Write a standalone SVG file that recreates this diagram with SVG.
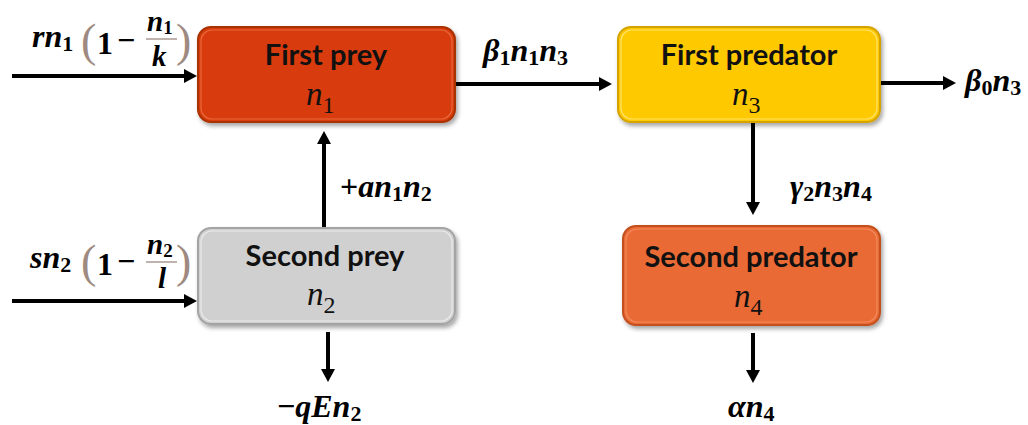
<svg xmlns="http://www.w3.org/2000/svg" width="1028" height="425" viewBox="0 0 1028 425">
<defs>
<style>
.box-title{font-family:Lato,"Liberation Sans",sans-serif;font-weight:bold;font-size:29px;fill:#111;text-anchor:middle}
.var{font-family:"Liberation Serif",serif;font-style:italic;font-size:33px;fill:#111}
.vsub{font-family:"Liberation Serif",serif;font-style:normal;font-size:24px;fill:#111}
.m{font-family:"Liberation Serif",serif;font-style:italic;font-weight:bold;font-size:32px;fill:#000}
.f{font-size:29px}
.ms{font-style:normal;font-weight:bold;font-size:22px}
.fs{font-style:normal;font-weight:bold;font-size:19px}
.mu{font-style:normal;font-weight:bold}
.paren{font-family:"Liberation Serif",serif;font-size:46px;fill:#9E8A80}
.frac{stroke:#9E8A80;stroke-width:1.3}
.conn{stroke:#000;stroke-width:4;fill:none}
</style>
<marker id="ah" markerUnits="userSpaceOnUse" markerWidth="14" markerHeight="14" viewBox="0 0 14 14" refX="2" refY="7" orient="auto">
<path d="M0,0 L13,7 L0,14 z" fill="#000"/>
</marker>
<filter id="sh" x="-10%" y="-10%" width="125%" height="135%">
<feDropShadow dx="2" dy="3" stdDeviation="2" flood-color="#000" flood-opacity="0.35"/>
</filter>
</defs>
<rect width="1028" height="425" fill="#fff"/>

<g id="connectors">
<line class="conn" x1="12" y1="76" x2="186" y2="76" marker-end="url(#ah)"/>
<line class="conn" x1="455" y1="84" x2="601" y2="84" marker-end="url(#ah)"/>
<line class="conn" x1="880" y1="83" x2="945" y2="83" marker-end="url(#ah)"/>
<line class="conn" x1="324" y1="228" x2="324" y2="142" marker-end="url(#ah)"/>
<line class="conn" x1="12" y1="301" x2="186" y2="301" marker-end="url(#ah)"/>
<line class="conn" x1="328" y1="332" x2="328" y2="371" marker-end="url(#ah)"/>
<line class="conn" x1="753" y1="122" x2="753" y2="204" marker-end="url(#ah)"/>
<line class="conn" x1="753" y1="333" x2="753" y2="372" marker-end="url(#ah)"/>
</g>

<g id="first-prey">
<rect x="198" y="27" width="257" height="95" rx="13" fill="#D83B07" stroke="#A83005" stroke-width="2" filter="url(#sh)"/>
<rect x="201" y="30" width="251" height="89" rx="11" fill="none" stroke="#E8683A" stroke-width="1.2"/>
<text class="box-title" x="326" y="65">First prey</text>
<text class="var" x="306" y="105">n<tspan class="vsub" dy="8">1</tspan></text>
</g>

<g id="first-predator">
<rect x="618" y="27" width="262" height="95" rx="13" fill="#FFC905" stroke="#D4A300" stroke-width="2" filter="url(#sh)"/>
<rect x="621" y="30" width="256" height="89" rx="11" fill="none" stroke="#FFE16A" stroke-width="1.2"/>
<text class="box-title" x="749" y="65">First predator</text>
<text class="var" x="732" y="105">n<tspan class="vsub" dy="8">3</tspan></text>
</g>

<g id="second-prey">
<rect x="198" y="228" width="257" height="96" rx="13" fill="#D0D0D0" stroke="#A4A4A4" stroke-width="2" filter="url(#sh)"/>
<rect x="201" y="231" width="251" height="90" rx="11" fill="none" stroke="#EAEAEA" stroke-width="1.2"/>
<text class="box-title" x="325" y="266">Second prey</text>
<text class="var" x="307" y="305">n<tspan class="vsub" dy="8">2</tspan></text>
</g>

<g id="second-predator">
<rect x="623" y="226" width="257" height="99" rx="13" fill="#E96A34" stroke="#C2501F" stroke-width="2" filter="url(#sh)"/>
<rect x="626" y="229" width="251" height="93" rx="11" fill="none" stroke="#F28A5C" stroke-width="1.2"/>
<text class="box-title" x="751" y="267">Second predator</text>
<text class="var" x="734" y="307">n<tspan class="vsub" dy="8">4</tspan></text>
</g>

<g id="labels">
<text class="m" x="32" y="47">rn<tspan class="ms" dy="4">1</tspan></text>
<text class="paren" x="81" y="56">(</text>
<text class="m" x="97" y="54"><tspan class="mu">1</tspan></text>
<text class="m" x="117" y="51"><tspan class="mu" font-weight="normal">−</tspan></text>
<line class="frac" x1="146" y1="39" x2="177" y2="39"/>
<text class="m f" x="147" y="31">n<tspan class="fs" dy="3">1</tspan></text>
<text class="m f" x="152" y="66">k</text>
<text class="paren" x="176" y="56">)</text>

<text class="m" x="30" y="268">sn<tspan class="ms" dy="4">2</tspan></text>
<text class="paren" x="81" y="277">(</text>
<text class="m" x="97" y="275"><tspan class="mu">1</tspan></text>
<text class="m" x="117" y="272"><tspan class="mu" font-weight="normal">−</tspan></text>
<line class="frac" x1="146" y1="262" x2="177" y2="262"/>
<text class="m f" x="147" y="254">n<tspan class="fs" dy="3">2</tspan></text>
<text class="m f" x="158" y="288">l</text>
<text class="paren" x="176" y="277">)</text>

<text class="m" x="483" y="61">β<tspan class="ms" dy="4">1</tspan><tspan dy="-4">n</tspan><tspan class="ms" dy="4">1</tspan><tspan dy="-4">n</tspan><tspan class="ms" dy="4">3</tspan></text>
<text class="m" x="965" y="91">β<tspan class="ms" dy="4">0</tspan><tspan dy="-4">n</tspan><tspan class="ms" dy="4">3</tspan></text>
<text class="m" x="340" y="197"><tspan class="mu" font-weight="normal">+</tspan>an<tspan class="ms" dy="4">1</tspan><tspan dy="-4">n</tspan><tspan class="ms" dy="4">2</tspan></text>
<text class="m" x="790" y="197">γ<tspan class="ms" dy="4">2</tspan><tspan dy="-4">n</tspan><tspan class="ms" dy="4">3</tspan><tspan dy="-4">n</tspan><tspan class="ms" dy="4">4</tspan></text>
<text class="m" x="277" y="417"><tspan class="mu" font-weight="normal">−</tspan>qEn<tspan class="ms" dy="4">2</tspan></text>
<text class="m" x="728" y="417">αn<tspan class="ms" dy="4">4</tspan></text>
</g>
</svg>
